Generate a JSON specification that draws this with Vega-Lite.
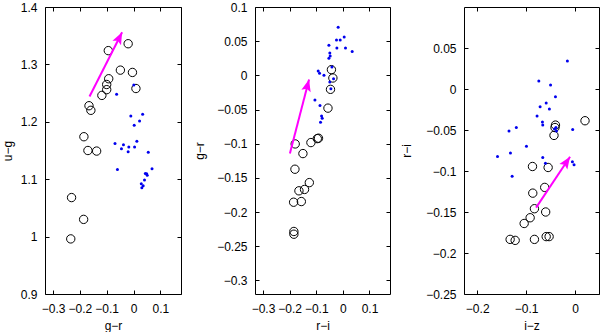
{
  "$schema": "https://vega.github.io/schema/vega-lite/v6.json",
  "padding": 0,
  "autosize": {"type": "pad"},
  "background": "white",
  "config": {
    "view": {"stroke": "black", "strokeWidth": 1},
    "font": "Liberation Sans",
    "axis": {
      "labelFont": "Liberation Sans", "labelFontSize": 12, "labelColor": "black",
      "titleFont": "Liberation Sans", "titleFontSize": 12, "titleFontWeight": "normal", "titleColor": "black",
      "grid": false, "domain": false, "tickColor": "black", "tickSize": -4, "format": "~g"
    }
  },
  "datasets": {
    "c1": [
      {"x": -0.02, "y": 1.336}, {"x": -0.094, "y": 1.324}, {"x": -0.049, "y": 1.29}, {"x": -0.004, "y": 1.286},
      {"x": -0.0925, "y": 1.275}, {"x": -0.1, "y": 1.265}, {"x": -0.1, "y": 1.256}, {"x": -0.118, "y": 1.246},
      {"x": 0.009, "y": 1.258}, {"x": -0.166, "y": 1.228}, {"x": -0.159, "y": 1.22}, {"x": -0.185, "y": 1.174},
      {"x": -0.17, "y": 1.15}, {"x": -0.1375, "y": 1.149}, {"x": -0.231, "y": 1.068}, {"x": -0.186, "y": 1.03},
      {"x": -0.234, "y": 0.996}
    ],
    "d1": [
      {"x": 0.001, "y": 1.264}, {"x": -0.063, "y": 1.248}, {"x": -0.01, "y": 1.21}, {"x": 0.034, "y": 1.213},
      {"x": 0.0225, "y": 1.2016}, {"x": 0.0025, "y": 1.194}, {"x": -0.069, "y": 1.162}, {"x": -0.0375, "y": 1.16},
      {"x": -0.045, "y": 1.153}, {"x": -0.0175, "y": 1.156}, {"x": 0.0125, "y": 1.166}, {"x": 0.004, "y": 1.156},
      {"x": -0.02, "y": 1.148}, {"x": 0.055, "y": 1.147}, {"x": -0.06, "y": 1.117}, {"x": 0.069, "y": 1.118},
      {"x": 0.044, "y": 1.11}, {"x": 0.049, "y": 1.1096}, {"x": 0.051, "y": 1.1067}, {"x": 0.041, "y": 1.0986},
      {"x": 0.029, "y": 1.092}, {"x": 0.036, "y": 1.0887}, {"x": 0.031, "y": 1.0853}
    ],
    "a1": [{"x": -0.164, "y": 1.244, "x2": -0.0425, "y2": 1.356}],
    "c2": [
      {"x": -0.043, "y": 0.0083}, {"x": -0.0375, "y": -0.0039}, {"x": -0.0465, "y": -0.0205}, {"x": -0.056, "y": -0.048},
      {"x": -0.0915, "y": -0.092}, {"x": -0.096, "y": -0.0926}, {"x": -0.12, "y": -0.0984}, {"x": -0.179, "y": -0.1004},
      {"x": -0.15, "y": -0.1145}, {"x": -0.18, "y": -0.1374}, {"x": -0.126, "y": -0.157}, {"x": -0.144, "y": -0.167},
      {"x": -0.165, "y": -0.169}, {"x": -0.185, "y": -0.1857}, {"x": -0.156, "y": -0.1847}, {"x": -0.184, "y": -0.2285},
      {"x": -0.184, "y": -0.2325}
    ],
    "d2": [
      {"x": -0.0176, "y": 0.0702}, {"x": -0.024, "y": 0.0516}, {"x": -0.01, "y": 0.0516}, {"x": 0.005, "y": 0.056},
      {"x": -0.0525, "y": 0.0439}, {"x": -0.0225, "y": 0.04}, {"x": 0.0098, "y": 0.04}, {"x": 0.035, "y": 0.035},
      {"x": -0.049, "y": 0.0326}, {"x": -0.0476, "y": 0.0282}, {"x": -0.0525, "y": 0.0249}, {"x": -0.041, "y": 0.0122},
      {"x": -0.0926, "y": 0.0063}, {"x": -0.0876, "y": 0.0029}, {"x": -0.071, "y": 0.0}, {"x": -0.035, "y": -0.005},
      {"x": -0.045, "y": -0.0195}, {"x": -0.049, "y": -0.0098}, {"x": -0.105, "y": -0.036}, {"x": -0.086, "y": -0.044},
      {"x": -0.08, "y": -0.0595}, {"x": -0.0776, "y": -0.0629}, {"x": -0.084, "y": -0.0687}
    ],
    "a2": [{"x": -0.199, "y": -0.1145, "x2": -0.127, "y2": -0.006}],
    "c3": [
      {"x": 0.0204, "y": -0.0387}, {"x": -0.04, "y": -0.044}, {"x": -0.041, "y": -0.047}, {"x": -0.043, "y": -0.0566},
      {"x": -0.087, "y": -0.0945}, {"x": -0.055, "y": -0.0957}, {"x": -0.062, "y": -0.12}, {"x": -0.0864, "y": -0.127},
      {"x": -0.083, "y": -0.146}, {"x": -0.06, "y": -0.15}, {"x": -0.0918, "y": -0.157}, {"x": -0.104, "y": -0.164},
      {"x": -0.059, "y": -0.18}, {"x": -0.053, "y": -0.18}, {"x": -0.1327, "y": -0.1834}, {"x": -0.1224, "y": -0.1846},
      {"x": -0.083, "y": -0.1834}
    ],
    "d3": [
      {"x": -0.0156, "y": 0.0342}, {"x": -0.074, "y": 0.0098}, {"x": -0.05, "y": 0.0049}, {"x": -0.04, "y": -0.0094},
      {"x": -0.059, "y": -0.0171}, {"x": -0.0714, "y": -0.0216}, {"x": -0.0524, "y": -0.0244}, {"x": -0.0776, "y": -0.033},
      {"x": -0.0667, "y": -0.0403}, {"x": -0.066, "y": -0.044}, {"x": -0.039, "y": -0.0468}, {"x": -0.042, "y": -0.0489},
      {"x": -0.038, "y": -0.0513}, {"x": -0.0048, "y": -0.0493}, {"x": -0.135, "y": -0.0513}, {"x": -0.12, "y": -0.0468},
      {"x": -0.0993, "y": -0.0697}, {"x": -0.1585, "y": -0.0823}, {"x": -0.132, "y": -0.0782}, {"x": -0.066, "y": -0.0835},
      {"x": -0.0605, "y": -0.0905}, {"x": -0.0054, "y": -0.0888}, {"x": -0.002, "y": -0.0925}, {"x": -0.1286, "y": -0.1064}
    ],
    "a3": [{"x": -0.0796, "y": -0.1447, "x2": -0.0102, "y2": -0.0827}]
  },
  "spacing": 74,
  "bounds": "flush",
  "hconcat": [
    {
      "width": 136, "height": 287,
      "resolve": {"axis": {"x": "independent", "y": "independent"}},
      "layer": [
        {
          "data": {"name": "c1"},
          "mark": {"type": "point", "shape": "circle", "filled": false, "stroke": "black", "strokeWidth": 1, "size": 70, "opacity": 1},
          "encoding": {
            "x": {"field": "x", "type": "quantitative", "scale": {"domain": [-0.33, 0.177], "nice": false, "zero": false},
                  "axis": {"orient": "bottom", "values": [-0.3, -0.2, -0.1, 0, 0.1], "labelPadding": 13, "title": "g−r", "titleY": 31, "titleBaseline": "middle"}},
            "y": {"field": "y", "type": "quantitative", "scale": {"domain": [0.9, 1.4], "nice": false, "zero": false},
                  "axis": {"orient": "left", "values": [0.9, 1, 1.1, 1.2, 1.3, 1.4], "labelPadding": 12, "title": "u−g", "titleX": -38, "titleBaseline": "middle"}}
          }
        },
        {
          "data": {"name": "d1"},
          "mark": {"type": "point", "shape": "circle", "filled": true, "color": "#0000ee", "size": 9, "opacity": 1},
          "encoding": {
            "x": {"field": "x", "type": "quantitative", "scale": {"domain": [-0.33, 0.177], "nice": false, "zero": false},
                  "axis": {"orient": "top", "values": [-0.3, -0.2, -0.1, 0, 0.1], "labels": false, "title": null}},
            "y": {"field": "y", "type": "quantitative", "scale": {"domain": [0.9, 1.4], "nice": false, "zero": false},
                  "axis": {"orient": "right", "values": [0.9, 1, 1.1, 1.2, 1.3, 1.4], "labels": false, "title": null}}
          }
        },
        {
          "data": {"name": "a1"},
          "mark": {"type": "rule", "color": "#ff00ff", "strokeWidth": 2},
          "encoding": {
            "x": {"field": "x", "type": "quantitative", "scale": {"domain": [-0.33, 0.177], "nice": false, "zero": false}, "axis": null},
            "y": {"field": "y", "type": "quantitative", "scale": {"domain": [0.9, 1.4], "nice": false, "zero": false}, "axis": null},
            "x2": {"field": "x2"}, "y2": {"field": "y2"}
          }
        },
        {
          "data": {"name": "a1"},
          "mark": {"type": "point", "shape": "M0,0L-0.4,1L0,0.8L0.4,1Z", "filled": true, "color": "#ff00ff", "size": 576, "opacity": 1, "angle": 26.7},
          "encoding": {
            "x": {"field": "x2", "type": "quantitative", "scale": {"domain": [-0.33, 0.177], "nice": false, "zero": false}, "axis": null},
            "y": {"field": "y2", "type": "quantitative", "scale": {"domain": [0.9, 1.4], "nice": false, "zero": false}, "axis": null}
          }
        }
      ]
    },
    {
      "width": 135, "height": 287,
      "resolve": {"axis": {"x": "independent", "y": "independent"}},
      "layer": [
        {
          "data": {"name": "c2"},
          "mark": {"type": "point", "shape": "circle", "filled": false, "stroke": "black", "strokeWidth": 1, "size": 70, "opacity": 1},
          "encoding": {
            "x": {"field": "x", "type": "quantitative", "scale": {"domain": [-0.33, 0.177], "nice": false, "zero": false},
                  "axis": {"orient": "bottom", "values": [-0.3, -0.2, -0.1, 0, 0.1], "labelPadding": 13, "title": "r−i", "titleY": 31, "titleBaseline": "middle"}},
            "y": {"field": "y", "type": "quantitative", "scale": {"domain": [-0.32, 0.1], "nice": false, "zero": false},
                  "axis": {"orient": "left", "values": [-0.3, -0.25, -0.2, -0.15, -0.1, -0.05, 0, 0.05, 0.1], "labelPadding": 12, "title": "g−r", "titleX": -56, "titleBaseline": "middle"}}
          }
        },
        {
          "data": {"name": "d2"},
          "mark": {"type": "point", "shape": "circle", "filled": true, "color": "#0000ee", "size": 9, "opacity": 1},
          "encoding": {
            "x": {"field": "x", "type": "quantitative", "scale": {"domain": [-0.33, 0.177], "nice": false, "zero": false},
                  "axis": {"orient": "top", "values": [-0.3, -0.2, -0.1, 0, 0.1], "labels": false, "title": null}},
            "y": {"field": "y", "type": "quantitative", "scale": {"domain": [-0.32, 0.1], "nice": false, "zero": false},
                  "axis": {"orient": "right", "values": [-0.3, -0.25, -0.2, -0.15, -0.1, -0.05, 0, 0.05, 0.1], "labels": false, "title": null}}
          }
        },
        {
          "data": {"name": "a2"},
          "mark": {"type": "rule", "color": "#ff00ff", "strokeWidth": 2},
          "encoding": {
            "x": {"field": "x", "type": "quantitative", "scale": {"domain": [-0.33, 0.177], "nice": false, "zero": false}, "axis": null},
            "y": {"field": "y", "type": "quantitative", "scale": {"domain": [-0.32, 0.1], "nice": false, "zero": false}, "axis": null},
            "x2": {"field": "x2"}, "y2": {"field": "y2"}
          }
        },
        {
          "data": {"name": "a2"},
          "mark": {"type": "point", "shape": "M0,0L-0.4,1L0,0.8L0.4,1Z", "filled": true, "color": "#ff00ff", "size": 576, "opacity": 1, "angle": 14.6},
          "encoding": {
            "x": {"field": "x2", "type": "quantitative", "scale": {"domain": [-0.33, 0.177], "nice": false, "zero": false}, "axis": null},
            "y": {"field": "y2", "type": "quantitative", "scale": {"domain": [-0.32, 0.1], "nice": false, "zero": false}, "axis": null}
          }
        }
      ]
    },
    {
      "width": 135, "height": 287,
      "resolve": {"axis": {"x": "independent", "y": "independent"}},
      "layer": [
        {
          "data": {"name": "c3"},
          "mark": {"type": "point", "shape": "circle", "filled": false, "stroke": "black", "strokeWidth": 1, "size": 70, "opacity": 1},
          "encoding": {
            "x": {"field": "x", "type": "quantitative", "scale": {"domain": [-0.227, 0.049], "nice": false, "zero": false},
                  "axis": {"orient": "bottom", "values": [-0.2, -0.1, 0], "labelPadding": 13, "title": "i−z", "titleY": 31, "titleBaseline": "middle"}},
            "y": {"field": "y", "type": "quantitative", "scale": {"domain": [-0.25, 0.1], "nice": false, "zero": false},
                  "axis": {"orient": "left", "values": [-0.25, -0.2, -0.15, -0.1, -0.05, 0, 0.05], "labelPadding": 12, "title": "r−i", "titleX": -58, "titleBaseline": "middle"}}
          }
        },
        {
          "data": {"name": "d3"},
          "mark": {"type": "point", "shape": "circle", "filled": true, "color": "#0000ee", "size": 9, "opacity": 1},
          "encoding": {
            "x": {"field": "x", "type": "quantitative", "scale": {"domain": [-0.227, 0.049], "nice": false, "zero": false},
                  "axis": {"orient": "top", "values": [-0.2, -0.1, 0], "labels": false, "title": null}},
            "y": {"field": "y", "type": "quantitative", "scale": {"domain": [-0.25, 0.1], "nice": false, "zero": false},
                  "axis": {"orient": "right", "values": [-0.25, -0.2, -0.15, -0.1, -0.05, 0, 0.05], "labels": false, "title": null}}
          }
        },
        {
          "data": {"name": "a3"},
          "mark": {"type": "rule", "color": "#ff00ff", "strokeWidth": 2},
          "encoding": {
            "x": {"field": "x", "type": "quantitative", "scale": {"domain": [-0.227, 0.049], "nice": false, "zero": false}, "axis": null},
            "y": {"field": "y", "type": "quantitative", "scale": {"domain": [-0.25, 0.1], "nice": false, "zero": false}, "axis": null},
            "x2": {"field": "x2"}, "y2": {"field": "y2"}
          }
        },
        {
          "data": {"name": "a3"},
          "mark": {"type": "point", "shape": "M0,0L-0.4,1L0,0.8L0.4,1Z", "filled": true, "color": "#ff00ff", "size": 576, "opacity": 1, "angle": 33.9},
          "encoding": {
            "x": {"field": "x2", "type": "quantitative", "scale": {"domain": [-0.227, 0.049], "nice": false, "zero": false}, "axis": null},
            "y": {"field": "y2", "type": "quantitative", "scale": {"domain": [-0.25, 0.1], "nice": false, "zero": false}, "axis": null}
          }
        }
      ]
    }
  ]
}
